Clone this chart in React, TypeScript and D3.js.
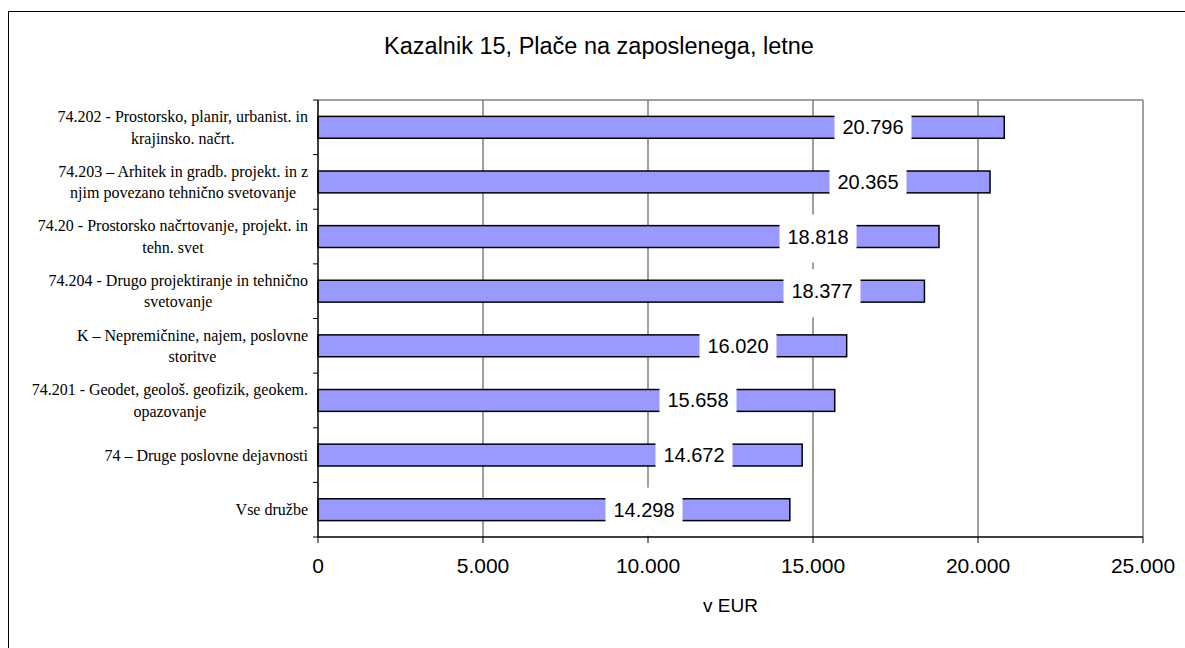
import React, { useEffect, useRef } from "react";
import * as d3 from "d3";

const categories: string[][] = [
  ["74.202 - Prostorsko, planir, urbanist. in", "krajinsko. načrt."],
  ["74.203 – Arhitek in gradb. projekt. in z", "njim povezano tehnično svetovanje"],
  ["74.20 - Prostorsko načrtovanje, projekt. in", "tehn. svet"],
  ["74.204 - Drugo projektiranje in tehnično", "svetovanje"],
  ["K – Nepremičnine, najem, poslovne", "storitve"],
  ["74.201 - Geodet, geološ. geofizik, geokem.", "opazovanje"],
  ["74 – Druge poslovne dejavnosti"],
  ["Vse družbe"],
];
const values: number[] = [20796, 20365, 18818, 18377, 16020, 15658, 14672, 14298];
// label anchor positions (in EUR units along the axis), as placed in the original
const labelAt: number[] = [16818, 16667, 15152, 15273, 12727, 11515, 11394, 9879];
const xTicks: number[] = [0, 5000, 10000, 15000, 20000, 25000];
const title = "Kazalnik 15, Plače na zaposlenega, letne";
const xTitle = "v EUR";

const fmt = (v: number) => {
  const s = Math.round(v).toString();
  return s.replace(/\B(?=(\d{3})+(?!\d))/g, ".");
};

export default function App() {
  const ref = useRef<SVGSVGElement | null>(null);

  useEffect(() => {
    const svg = d3.select(ref.current);
    svg.selectAll("*").remove();
    const W = 1185, H = 648;
    const left = 318, right = 1143, top = 100, bottom = 537;
    const sans = "'Liberation Sans', Arial, sans-serif";
    const serif = "'Liberation Serif', 'Times New Roman', serif";

    svg.append("rect").attr("x", 0).attr("y", 0).attr("width", W).attr("height", H).attr("fill", "#fff");
    svg.append("rect").attr("x", 8.5).attr("y", 11.5).attr("width", 1200).attr("height", 700)
      .attr("fill", "none").attr("stroke", "#000").attr("stroke-width", 1);

    const x = d3.scaleLinear().domain([0, 25000]).range([left, right]);
    const y = d3.scaleBand<number>().domain(d3.range(values.length)).range([top, bottom]).paddingInner(0.6).paddingOuter(0.3);
    const band = (bottom - top) / values.length;

    // title
    svg.append("text").attr("x", 599).attr("y", 54).attr("text-anchor", "middle")
      .attr("font-family", sans).attr("font-size", 23.5).attr("fill", "#000").text(title);

    // gridlines
    svg.append("g").selectAll("line").data(xTicks.slice(1)).join("line")
      .attr("x1", d => x(d)).attr("x2", d => x(d)).attr("y1", top).attr("y2", bottom)
      .attr("stroke", "#808080").attr("stroke-width", 1.5);
    // plot border top
    svg.append("line").attr("x1", left).attr("x2", right).attr("y1", top).attr("y2", top)
      .attr("stroke", "#808080").attr("stroke-width", 1.5);

    // bars
    svg.append("g").selectAll("rect").data(values).join("rect")
      .attr("x", x(0)).attr("y", (_, i) => y(i)!).attr("width", d => x(d) - x(0)).attr("height", y.bandwidth())
      .attr("fill", "#9999FF").attr("stroke", "#000").attr("stroke-width", 1.5);

    // y axis
    svg.append("line").attr("x1", left).attr("x2", left).attr("y1", top).attr("y2", bottom)
      .attr("stroke", "#000").attr("stroke-width", 1.5);
    svg.append("g").selectAll("line").data(d3.range(values.length + 1)).join("line")
      .attr("x1", left - 5).attr("x2", left).attr("y1", d => top + d * band).attr("y2", d => top + d * band)
      .attr("stroke", "#000").attr("stroke-width", 1);

    // x axis
    svg.append("line").attr("x1", left).attr("x2", right).attr("y1", bottom).attr("y2", bottom)
      .attr("stroke", "#000").attr("stroke-width", 1.5);
    svg.append("g").selectAll("line").data(xTicks).join("line")
      .attr("x1", d => x(d)).attr("x2", d => x(d)).attr("y1", bottom).attr("y2", bottom + 6)
      .attr("stroke", "#000").attr("stroke-width", 1);
    svg.append("g").selectAll("text").data(xTicks).join("text")
      .attr("x", d => x(d)).attr("y", 573).attr("text-anchor", "middle")
      .attr("font-family", sans).attr("font-size", 21).attr("fill", "#000").text(d => fmt(d));
    svg.append("text").attr("x", (left + right) / 2).attr("y", 612).attr("text-anchor", "middle")
      .attr("font-family", sans).attr("font-size", 19).attr("fill", "#000").text(xTitle);

    // category labels (centered block, right-aligned)
    const labelRight = 308;
    categories.forEach((lines, i) => {
      const cy = y(i)! + y.bandwidth() / 2;
      const g = svg.append("g");
      const texts = lines.map((ln, j) =>
        g.append("text").attr("font-family", serif).attr("font-size", 16).attr("fill", "#000")
          .attr("text-anchor", "middle")
          .attr("y", cy + (j - (lines.length - 1) / 2) * 21.5 + 5.5)
          .text(ln)
      );
      const maxW = d3.max(texts, t => (t.node() as SVGTextElement).getComputedTextLength()) || 0;
      texts.forEach(t => t.attr("x", labelRight - maxW / 2));
    });

    // data labels
    const lg = svg.append("g");
    values.forEach((v, i) => {
      const cy = y(i)! + y.bandwidth() / 2;
      const cx = x(labelAt[i]);
      lg.append("rect").attr("x", cx - 38.5).attr("y", cy - 22).attr("width", 77).attr("height", 48).attr("fill", "#fff");
      lg.append("text").attr("x", cx).attr("y", cy + 7).attr("text-anchor", "middle")
        .attr("font-family", sans).attr("font-size", 20).attr("fill", "#000").text(fmt(v));
    });
  }, []);

  return (
    <svg ref={ref} width={1185} height={648}
      style={{ position: "absolute", left: 0, top: 0, display: "block" }} />
  );
}
